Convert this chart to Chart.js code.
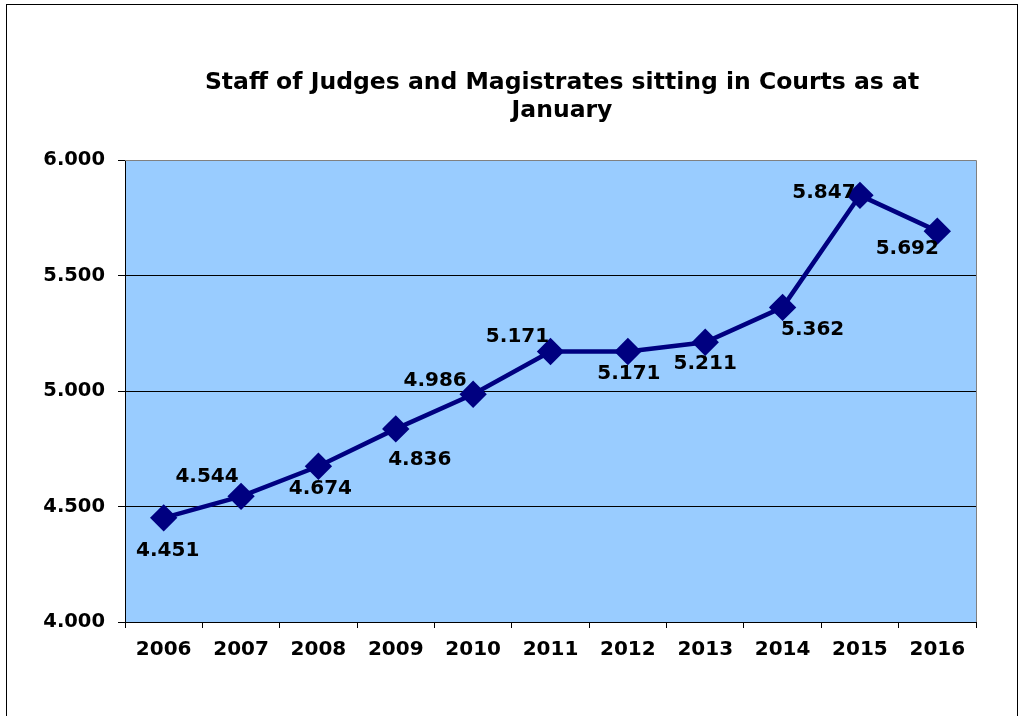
<!DOCTYPE html>
<html>
<head>
<meta charset="utf-8">
<script src="https://cdn.jsdelivr.net/npm/chart.js@4"></script>
<style>
  body { margin: 0; background: #fff; }
  #wrap { width: 1023px; height: 716px; }
</style>
</head>
<body>
<div id="wrap"><canvas id="staffChart" width="1023" height="716"></canvas></div>
<script>
var years = ['2006', '2007', '2008', '2009', '2010', '2011', '2012', '2013', '2014', '2015', '2016'];
var staff = [4451, 4544, 4674, 4836, 4986, 5171, 5171, 5211, 5362, 5847, 5692];
var yTicks = [4000, 4500, 5000, 5500, 6000];
var titleLines = ['Staff of Judges and Magistrates sitting in Courts as at', 'January'];

// where each value label sits relative to its point (Excel placed them by hand)
var labelOffsets = [[4, 33], [-34, -20], [2, 22], [24, 31], [-38, -13], [-33, -15],
                    [1, 22], [0, 22], [30, 22], [-36, -3], [-30, 18]];

function fmt(v) {
    return String(v).replace(/\B(?=(\d{3})+(?!\d))/g, '.');
}

var frameAndLabels = {
    id: 'frameAndLabels',
    beforeDraw: function (chart) {
        var c = chart.ctx, a = chart.chartArea;
        c.save();
        c.fillStyle = '#ffffff';
        c.fillRect(0, 0, chart.width, chart.height);
        c.strokeStyle = '#000000';
        c.lineWidth = 1;
        c.strokeRect(6.5, 4.5, 1011, 730);
        c.fillStyle = '#99ccff';
        c.fillRect(a.left, a.top, a.right - a.left, a.bottom - a.top);
        c.fillStyle = '#000000';
        c.font = 'bold 23.5px "DejaVu Sans"';
        c.textAlign = 'center';
        c.textBaseline = 'middle';
        c.fillText(titleLines[0], 562, 83);
        c.fillText(titleLines[1], 562, 111);
        c.restore();
    },
    afterDatasetsDraw: function (chart) {
        var c = chart.ctx, a = chart.chartArea;
        var pts = chart.getDatasetMeta(0).data;
        c.save();
        c.strokeStyle = '#808080';
        c.lineWidth = 1;
        c.beginPath();
        c.moveTo(a.left, a.top + 0.5);
        c.lineTo(a.right + 0.5, a.top + 0.5);
        c.lineTo(a.right + 0.5, a.bottom);
        c.stroke();
        c.fillStyle = '#000000';
        c.font = 'bold 20px "DejaVu Sans"';
        c.textAlign = 'center';
        c.textBaseline = 'middle';
        pts.forEach(function (p, i) {
            c.fillText(fmt(staff[i]), p.x + labelOffsets[i][0], p.y + labelOffsets[i][1]);
        });
        c.restore();
    }
};

var ctx = document.getElementById('staffChart').getContext('2d');
var staffChart = new Chart(ctx, {
    type: 'line',
    data: {
        labels: years,
        datasets: [{
            label: 'Staff',
            data: staff,
            borderColor: '#000080',
            backgroundColor: '#000080',
            borderWidth: 4.5,
            pointStyle: 'rectRot',
            pointRadius: 10.5,
            pointHoverRadius: 10.5,
            tension: 0
        }]
    },
    options: {
        responsive: false,
        animation: false,
        layout: { padding: { left: 0, right: 47, top: 160, bottom: 0 } },
        plugins: {
            legend: { display: false },
            title: { display: false },
            tooltip: { enabled: false }
        },
        scales: {
            x: {
                offset: true,
                grid: { offset: true, drawOnChartArea: false, color: '#000000', tickLength: 6 },
                border: { color: '#000000', width: 1 },
                ticks: { color: '#000000', font: { family: 'DejaVu Sans', size: 20, weight: 'bold' }, padding: 10 },
                afterFit: function (s) { s.height = 94; }
            },
            y: {
                min: 4000,
                max: 6000,
                afterBuildTicks: function (s) { s.ticks = yTicks.map(function (v) { return { value: v }; }); },
                grid: {
                    color: function (c) { return c.tick && c.tick.value === 6000 ? '#808080' : '#000000'; },
                    tickColor: '#000000',
                    tickLength: 7
                },
                border: { color: '#000000', width: 1 },
                ticks: {
                    color: '#000000',
                    font: { family: 'DejaVu Sans', size: 19.5, weight: 'bold' },
                    padding: 13,
                    callback: function (v) { return fmt(v); }
                },
                afterFit: function (s) { s.width = 125; }
            }
        }
    },
    plugins: [frameAndLabels]
});
</script>
</body>
</html>
